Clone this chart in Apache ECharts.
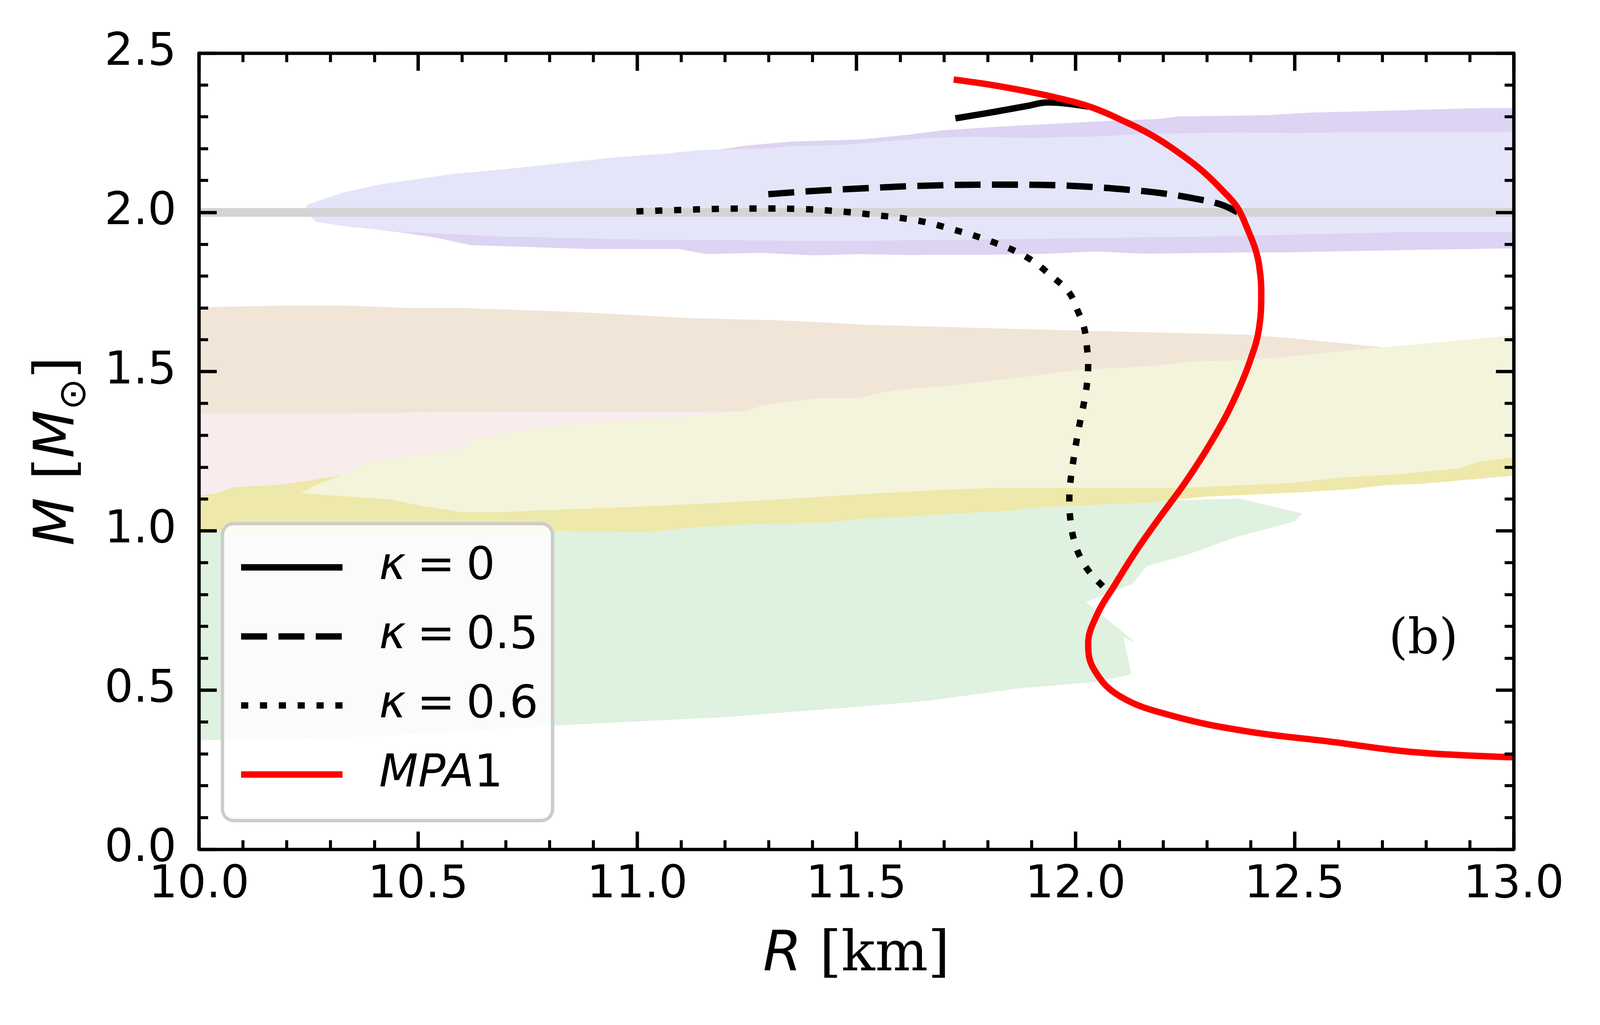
<!DOCTYPE html>
<html>
<head>
<meta charset="utf-8">
<title>M-R</title>
<script src="https://cdn.jsdelivr.net/npm/echarts@6/dist/echarts.min.js"></script>
<style>
  html, body { margin: 0; padding: 0; background: #fff; overflow: hidden; }
  #main { width: 100vw; height: 100vh; }
</style>
</head>
<body>
<div id="main"></div>
<script type="text/javascript">
// ---- data (R [km], M [Msun]) ----
var mpa1 = [[11.722,2.417],[11.813,2.399],[11.889,2.380],[11.957,2.360],[12.034,2.331],[12.111,2.286],
  [12.178,2.239],[12.245,2.178],[12.293,2.126],[12.341,2.061],[12.370,2.014],[12.394,1.943],[12.413,1.873],
  [12.422,1.802],[12.424,1.747],[12.418,1.628],[12.399,1.536],[12.375,1.452],[12.341,1.354],[12.293,1.241],
  [12.245,1.141],[12.197,1.051],[12.139,0.938],[12.091,0.833],[12.048,0.733],[12.029,0.644],[12.043,0.563],
  [12.101,0.481],[12.216,0.421],[12.388,0.371],[12.581,0.338],[12.773,0.305],[13.0,0.289]];
var kappa0 = [[12.03,2.332],[11.97,2.343],[11.937,2.345],[11.89,2.334],[11.813,2.315],[11.726,2.295]];
var kappa05 = [[11.299,2.057],[11.40,2.067],[11.526,2.076],[11.640,2.083],[11.813,2.087],[11.928,2.086],
  [12.034,2.080],[12.120,2.071],[12.197,2.060],[12.273,2.043],[12.331,2.025],[12.370,2.000]];
var kappa06 = [[10.998,2.003],[11.087,2.007],[11.186,2.011],[11.285,2.012],[11.383,2.010],[11.462,2.003],
  [11.521,1.995],[11.640,1.974],[11.716,1.948],[11.813,1.906],[11.889,1.859],[11.947,1.798],[11.986,1.747],
  [12.005,1.691],[12.019,1.642],[12.026,1.578],[12.029,1.522],[12.026,1.459],[12.019,1.399],[12.010,1.339],
  [12.002,1.279],[11.995,1.219],[11.989,1.160],[11.986,1.100],[11.988,1.040],[11.995,0.980],[12.010,0.920],
  [12.034,0.867],[12.063,0.825],[12.075,0.810]];
var refLine = [[10.0,2.0],[13.0,2.0]];

// observational bands (polygons)
var bandGreen = [[10.0,1.05],[11.0,1.06],[11.6,1.08],[12.1,1.10],[12.226,1.096],[12.375,1.101],[12.518,1.054],
  [12.499,1.029],[12.365,0.980],[12.259,0.927],[12.163,0.889],[12.129,0.833],[12.024,0.776],[12.139,0.647],
  [12.109,0.667],[12.128,0.549],[12.043,0.525],[11.870,0.505],[11.668,0.467],[11.525,0.450],[11.2,0.415],
  [10.86,0.392],[10.38,0.353],[10.0,0.342]];
var bandPink = [[10.0,1.367],[10.593,1.372],[11.249,1.375],[11.35,1.30],[10.5,1.10],[10.0,1.05]];
var bandTan = [[10.0,1.702],[10.188,1.707],[10.341,1.707],[10.474,1.700],[10.598,1.700],[10.860,1.687],
  [11.116,1.668],[11.323,1.661],[11.462,1.652],[11.525,1.647],[12.005,1.629],[12.388,1.616],[12.485,1.606],
  [12.705,1.576],[12.69,1.50],[11.40,1.37],[11.249,1.375],[10.593,1.372],[10.0,1.367]];
var bandGold = [[10.0,1.110],[10.04,1.118],[10.079,1.137],[10.188,1.145],[10.256,1.159],[10.326,1.175],
  [13.0,1.40],[13.0,1.173],[12.792,1.148],[12.706,1.143],[12.639,1.132],[12.514,1.121],[12.293,1.107],
  [12.168,1.089],[11.899,1.073],[11.861,1.064],[11.726,1.054],[11.601,1.043],[11.525,1.040],[11.432,1.026],
  [11.274,1.022],[11.126,1.011],[11.022,0.996],[10.805,1.000],[10.0,1.0]];
var bandBeige = [[10.232,1.118],[10.267,1.145],[10.326,1.175],[10.395,1.219],[10.613,1.261],[10.622,1.287],
  [10.751,1.320],[10.869,1.337],[11.067,1.354],[11.249,1.375],[11.289,1.395],[11.413,1.416],[11.501,1.416],
  [11.549,1.431],[11.601,1.444],[11.716,1.455],[11.889,1.484],[12.005,1.504],[12.178,1.518],[12.264,1.531],
  [12.388,1.536],[12.485,1.547],[12.715,1.578],[12.917,1.603],[13.0,1.614],[13.0,1.231],[12.917,1.216],
  [12.879,1.197],[12.725,1.176],[12.609,1.168],[12.494,1.150],[12.321,1.140],[12.254,1.135],[11.841,1.135],
  [11.716,1.130],[11.549,1.118],[11.422,1.107],[11.186,1.088],[10.988,1.075],[10.790,1.065],[10.681,1.058],
  [10.602,1.058],[10.514,1.077],[10.434,1.099],[10.335,1.108]];
var bandPurple = [[10.35,1.955],[11.0,2.10],[11.186,2.197],[11.245,2.209],[11.348,2.222],[11.512,2.229],
  [11.621,2.244],[11.698,2.258],[11.861,2.272],[12.062,2.286],[12.187,2.293],[12.235,2.301],[12.437,2.305],
  [12.533,2.313],[12.677,2.318],[12.917,2.327],[13.0,2.327],[13.0,1.887],[12.773,1.882],[12.474,1.874],
  [12.388,1.874],[12.158,1.870],[12.043,1.877],[11.937,1.870],[11.813,1.867],[11.611,1.866],[11.507,1.869],
  [11.403,1.865],[11.279,1.873],[11.156,1.869],[11.094,1.885],[10.884,1.885],[10.620,1.897],[10.538,1.921],
  [10.454,1.938]];
var bandLavender = [[10.245,2.023],[10.292,2.045],[10.331,2.063],[10.415,2.088],[10.583,2.121],[10.701,2.136],
  [10.958,2.174],[11.062,2.184],[11.146,2.196],[11.289,2.200],[11.348,2.208],[11.476,2.212],[11.525,2.218],
  [11.668,2.234],[11.765,2.237],[11.899,2.234],[12.062,2.239],[12.148,2.246],[12.370,2.251],[12.504,2.249],
  [12.629,2.252],[13.0,2.253],[13.0,1.938],[12.754,1.938],[12.341,1.925],[11.813,1.915],[11.525,1.911],
  [11.353,1.911],[11.017,1.914],[10.672,1.925],[10.454,1.940],[10.346,1.954],[10.268,1.970],[10.245,2.0]];

var seriesNames = ['κ=0', 'κ=0.5', 'κ=0.6', 'MPA1'];
var legendLabels = ['{it|κ}{n|\u2005=\u20050}', '{it|κ}{n|\u2005=\u20050.5}', '{it|κ}{n|\u2005=\u20050.6}', '{it|MPA}{n|1}'];
var panelLabel = '(b)';
var panelPos = [12.794, 0.655];

// ---- chart ----
var dom = document.getElementById('main');
var myChart = echarts.init(dom, null, { renderer: 'canvas' });

// layout was measured on a 4244 x 2625 frame; scale to the real size
var sx = myChart.getWidth() / 4244;
var sy = myChart.getHeight() / 2625;
var s = Math.min(sx, sy);

function band(points, color) {
    return {
        type: 'custom',
        data: points,
        encode: { x: 0, y: 1 },
        silent: true,
        z: 1,
        animation: false,
        renderItem: function (params, api) {
            if (params.dataIndex !== 0) return null;
            var pts = points.map(function (p) { return api.coord(p); });
            return { type: 'polygon', shape: { points: pts }, style: { fill: color } };
        }
    };
}

function curve(name, data, color, dash, z) {
    return {
        name: name,
        type: 'line',
        data: data,
        color: color,
        symbol: 'none',
        showSymbol: false,
        smooth: 0.4,
        z: z,
        animation: false,
        lineStyle: { color: color, width: 17 * s, type: dash, cap: 'butt' }
    };
}

var tickFont = 'DejaVu Sans';

function xAx(pos, showLabel) {
    return {
        type: 'value', min: 10, max: 13, interval: 0.5, position: pos, z: 10,
        axisLine: { show: true, onZero: false, lineStyle: { color: '#000', width: 9 * s } },
        axisTick: { show: true, inside: true, length: 47 * s, lineStyle: { color: '#000', width: 9 * s } },
        minorTick: { show: true, splitNumber: 5, length: 24 * s, lineStyle: { color: '#000', width: 8 * s } },
        splitLine: { show: false },
        axisLabel: {
            show: showLabel, margin: 36 * s, fontSize: 120 * s, fontFamily: tickFont, color: '#000',
            formatter: function (v) { return v.toFixed(1); }
        }
    };
}

function yAx(pos, showLabel) {
    return {
        type: 'value', min: 0, max: 2.5, interval: 0.5, position: pos, z: 10,
        axisLine: { show: true, onZero: false, lineStyle: { color: '#000', width: 9 * s } },
        axisTick: { show: true, inside: true, length: 47 * s, lineStyle: { color: '#000', width: 9 * s } },
        minorTick: { show: true, splitNumber: 5, length: 24 * s, lineStyle: { color: '#000', width: 8 * s } },
        splitLine: { show: false },
        axisLabel: {
            show: showLabel, margin: 60 * s, fontSize: 120 * s, fontFamily: tickFont, color: '#000',
            formatter: function (v) { return v.toFixed(1); }
        }
    };
}

var xBottom = xAx('bottom', true);
xBottom.name = '{it|R}{se| [km]}';
xBottom.nameLocation = 'middle';
xBottom.nameGap = 203 * s;
xBottom.nameTextStyle = {
    rich: {
        it: { fontSize: 148 * s, fontFamily: 'DejaVu Sans', fontStyle: 'italic', color: '#000', lineHeight: 160 * s },
        se: { fontSize: 148 * s, fontFamily: 'DejaVu Serif', color: '#000', lineHeight: 160 * s }
    }
};

var yLeft = yAx('left', true);
yLeft.name = '{it|M}{se| [}{it|M}{sub|⊙}{se|]}';
yLeft.nameLocation = 'middle';
yLeft.nameRotate = 90;
yLeft.nameGap = 278 * s;
yLeft.nameTextStyle = {
    rich: {
        it: { fontSize: 148 * s, fontFamily: 'DejaVu Sans', fontStyle: 'italic', color: '#000', lineHeight: 188 * s, verticalAlign: 'middle' },
        se: { fontSize: 148 * s, fontFamily: 'DejaVu Serif', color: '#000', lineHeight: 188 * s, verticalAlign: 'middle' },
        sub: { fontSize: 100 * s, fontFamily: 'DejaVu Sans', color: '#000', lineHeight: 100 * s, verticalAlign: 'bottom' }
    }
};

var option = {
    backgroundColor: '#ffffff',
    animation: false,
    grid: { left: 528 * sx, right: 229 * sx, top: 136 * sy, bottom: 450 * sy, containLabel: false },
    xAxis: [xBottom, xAx('top', false)],
    yAxis: [yLeft, yAx('right', false)],
    legend: {
        data: seriesNames,
        orient: 'vertical',
        left: 590 * sx,
        top: 1341 * sy,
        itemWidth: 269 * s,
        itemHeight: 120 * s,
        itemGap: 63 * s,
        padding: [56 * s, 38 * s, 62 * s, 41 * s],
        selectedMode: false,
        backgroundColor: 'rgba(255,255,255,0.8)',
        borderColor: '#cccccc',
        borderWidth: 9 * s,
        borderRadius: 30 * s,
        z: 20,
        itemStyle: { opacity: 0, borderWidth: 0 },
        lineStyle: { width: 17 * s },
        formatter: function (name) { return legendLabels[seriesNames.indexOf(name)]; },
        textStyle: {
            color: '#000',
            fontSize: 120 * s,
            fontFamily: 'DejaVu Sans',
            padding: [0, 0, 0, 92 * s],
            rich: {
                it: { fontSize: 120 * s, fontFamily: 'DejaVu Sans', fontStyle: 'italic', color: '#000' },
                n: { fontSize: 120 * s, fontFamily: 'DejaVu Sans', color: '#000' }
            }
        }
    },
    series: [
        band(bandGreen, '#dff1df'),
        band(bandPink, '#f8ecec'),
        band(bandTan, '#f1e5d8'),
        band(bandGold, '#eee8aa'),
        band(bandBeige, '#f4f4dc'),
        band(bandPurple, '#ddd3f3'),
        band(bandLavender, '#e5e5f9'),
        {
            type: 'line', data: refLine, symbol: 'none', silent: true, z: 2, animation: false,
            lineStyle: { color: '#d3d3d3', width: 23 * s }
        },
        curve(seriesNames[0], kappa0, '#000000', 'solid', 3),
        curve(seriesNames[1], kappa05, '#000000', [69 * s, 30 * s], 3),
        curve(seriesNames[2], kappa06, '#000000', [19 * s, 31 * s], 3),
        curve(seriesNames[3], mpa1, '#ff0000', 'solid', 4)
    ]
};

myChart.setOption(option);

var pb = myChart.convertToPixel({ xAxisIndex: 0, yAxisIndex: 0 }, panelPos);
myChart.setOption({
    graphic: [{
        type: 'text', x: pb[0], y: pb[1], z: 20,
        style: {
            text: panelLabel, font: Math.round(130 * s) + 'px "DejaVu Serif"', fill: '#000',
            align: 'center', verticalAlign: 'middle'
        }
    }]
});
</script>
</body>
</html>
